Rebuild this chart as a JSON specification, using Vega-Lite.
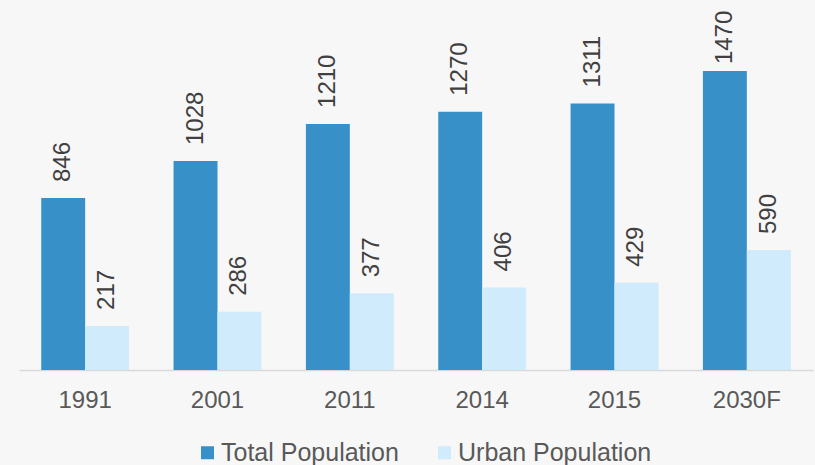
{
  "$schema": "https://vega.github.io/schema/vega-lite/v6.json",
  "width": 794,
  "height": 366,
  "autosize": "none",
  "padding": {"left": 19, "top": 4, "right": 2, "bottom": 95},
  "background": "#f7f7f7",
  "data": {
    "values": [
      {"year": "1991", "series": "Total Population", "value": 846},
      {"year": "1991", "series": "Urban Population", "value": 217},
      {"year": "2001", "series": "Total Population", "value": 1028},
      {"year": "2001", "series": "Urban Population", "value": 286},
      {"year": "2011", "series": "Total Population", "value": 1210},
      {"year": "2011", "series": "Urban Population", "value": 377},
      {"year": "2014", "series": "Total Population", "value": 1270},
      {"year": "2014", "series": "Urban Population", "value": 406},
      {"year": "2015", "series": "Total Population", "value": 1311},
      {"year": "2015", "series": "Urban Population", "value": 429},
      {"year": "2030F", "series": "Total Population", "value": 1470},
      {"year": "2030F", "series": "Urban Population", "value": 590}
    ]
  },
  "encoding": {
    "x": {
      "field": "year", "type": "nominal", "sort": null, "title": null,
      "scale": {"paddingInner": 0.336, "paddingOuter": 0.168},
      "axis": {
        "labelAngle": 0, "ticks": false, "domainColor": "#d9d9d9", "domainWidth": 1.5,
        "labelFont": "Liberation Sans", "labelFontSize": 24, "labelColor": "#595959",
        "labelPadding": 18
      }
    },
    "xOffset": {"field": "series", "type": "nominal", "scale": {"paddingInner": 0, "paddingOuter": 0}},
    "y": {
      "field": "value", "type": "quantitative", "scale": {"domain": [0, 1800], "nice": false},
      "axis": null
    }
  },
  "layer": [
    {
      "mark": {"type": "bar"},
      "encoding": {
        "color": {
          "field": "series", "type": "nominal", "title": null,
          "scale": {"domain": ["Total Population", "Urban Population"], "range": ["#3790c8", "#cfebfc"]},
          "legend": {
            "orient": "none", "legendX": 176, "legendY": 436, "direction": "horizontal",
            "symbolType": "square", "symbolSize": 169,
            "symbolStrokeWidth": 0, "labelFont": "Liberation Sans", "labelFontSize": 25, "labelColor": "#595959",
            "labelOffset": 1, "columnPadding": 33, "labelLimit": 400
          }
        }
      }
    },
    {
      "transform": [{"filter": "datum.value < 1400"}],
      "mark": {"type": "text", "angle": 270, "align": "left", "baseline": "middle", "dx": 16,
        "font": "Liberation Sans", "fontSize": 24, "color": "#404040"},
      "encoding": {"text": {"field": "value", "type": "quantitative"}}
    },
    {
      "transform": [{"filter": "datum.value >= 1400"}],
      "mark": {"type": "text", "angle": 270, "align": "left", "baseline": "middle", "dx": 7,
        "font": "Liberation Sans", "fontSize": 24, "color": "#404040"},
      "encoding": {"text": {"field": "value", "type": "quantitative"}}
    }
  ],
  "config": {"view": {"stroke": null}}
}
